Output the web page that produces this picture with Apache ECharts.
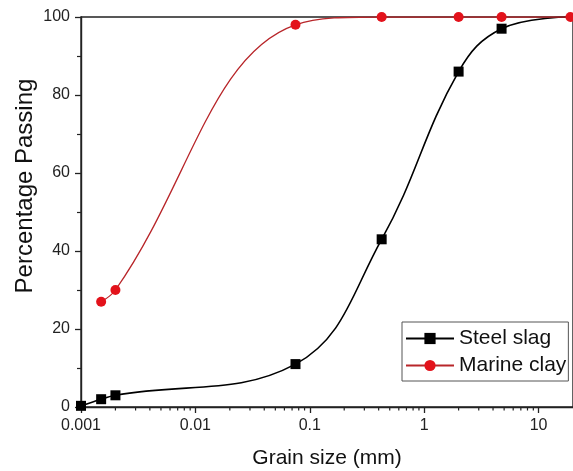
<!DOCTYPE html>
<html lang="en">
<head>
    <meta charset="UTF-8">
    <title>Grain size distribution</title>
    <script src="https://cdn.jsdelivr.net/npm/echarts@6/dist/echarts.min.js"></script>
    <style>
        html, body { margin: 0; padding: 0; background: #fff; }
        #main { width: 573px; height: 471px; }
    </style>
</head>
<body>
<div id="main"></div>
<script type="text/javascript">
    // grain size (mm) and percentage passing
    var slagSize = [0.001, 0.0015, 0.002, 0.075, 0.425, 2, 4.75, 19];
    var slagPass = [0.3, 2, 3, 11, 43, 86, 97, 100];
    var claySize = [0.0015, 0.002, 0.075, 0.425, 2, 4.75, 19];
    var clayPass = [27, 30, 98, 100, 100, 100, 100];
    // short ticks between the decades of the log axis
    var minorX = [0.002, 0.003, 0.004, 0.005, 0.006, 0.007, 0.008, 0.009,
                  0.02, 0.03, 0.04, 0.05, 0.06, 0.07, 0.08, 0.09,
                  0.2, 0.3, 0.4, 0.5, 0.6, 0.7, 0.8, 0.9,
                  2, 3, 4, 5, 6, 7, 8, 9];

    var font = 'Liberation Sans, Arial, sans-serif';
    var chart = echarts.init(document.getElementById('main'));

    chart.setOption({
        animation: false,
        grid: {
            left: 81, right: 0, top: 17, bottom: 64, outerBoundsMode: 'none',
            show: true, borderColor: '#222', borderWidth: 1.4
        },
        legend: {
            orient: 'vertical',
            left: 402,
            top: 322,
            padding: [6, 2, 5, 3],
            itemGap: 6,
            itemWidth: 48,
            itemHeight: 14,
            borderColor: '#555',
            borderWidth: 1,
            textStyle: { fontFamily: font, fontSize: 21, color: '#111' },
            data: ['Steel slag', 'Marine clay']
        },
        xAxis: {
            type: 'log',
            logBase: 10,
            min: 0.001,
            max: 20,
            name: 'Grain size (mm)',
            nameLocation: 'middle',
            nameGap: 41,
            nameMoveOverlap: false,
            nameTextStyle: { fontFamily: font, fontSize: 21, color: '#111' },
            axisLine: { lineStyle: { color: '#222', width: 1.4 } },
            axisTick: { length: 6, lineStyle: { color: '#222', width: 1.3 } },
            axisLabel: {
                fontFamily: font, fontSize: 16, color: '#222', margin: 11,
                showMaxLabel: false,
                formatter: function (v) { return String(+v.toPrecision(3)); }
            },
            splitLine: { show: false }
        },
        yAxis: {
            type: 'value',
            min: 0,
            max: 100,
            interval: 20,
            name: 'Percentage Passing',
            nameLocation: 'middle',
            nameGap: 44,
            nameMoveOverlap: false,
            nameTextStyle: { fontFamily: font, fontSize: 24, color: '#111', padding: [0, 0, 0, 52] },
            axisLine: { show: true, lineStyle: { color: '#222', width: 1.4 } },
            axisTick: { show: true, length: 6, lineStyle: { color: '#222', width: 1.3 } },
            minorTick: { show: true, splitNumber: 2, length: 4, lineStyle: { color: '#222', width: 1.2 } },
            axisLabel: { fontFamily: font, fontSize: 16, color: '#222', margin: 11 },
            splitLine: { show: false }
        },
        series: [{
            name: 'Steel slag',
            type: 'line',
            smooth: 0.4,
            symbol: 'rect',
            symbolSize: 10,
            itemStyle: { color: '#000' },
            lineStyle: { color: '#000', width: 1.6 },
            data: slagSize.map(function (x, i) {
                // last point only shapes the curve, no marker in the original
                return i === slagSize.length - 1
                    ? { value: [x, slagPass[i]], symbol: 'none' }
                    : [x, slagPass[i]];
            }),
            z: 3
        }, {
            name: 'Marine clay',
            type: 'line',
            smooth: 0.4,
            symbol: 'circle',
            symbolSize: 10,
            itemStyle: { color: '#e3121b' },
            lineStyle: { color: '#b8262a', width: 1.3 },
            data: claySize.map(function (x, i) { return [x, clayPass[i]]; }),
            z: 4
        }]
    });

    // minor ticks placed through the axis scale
    var y0 = chart.convertToPixel({ yAxisIndex: 0 }, 0);
    chart.setOption({
        graphic: minorX.map(function (v) {
            var px = chart.convertToPixel({ xAxisIndex: 0 }, v);
            return {
                type: 'line',
                silent: true,
                z: 100,
                shape: { x1: px, y1: y0, x2: px, y2: y0 + 3.5 },
                style: { stroke: '#222', lineWidth: 1.2 }
            };
        })
    });
</script>
</body>
</html>
